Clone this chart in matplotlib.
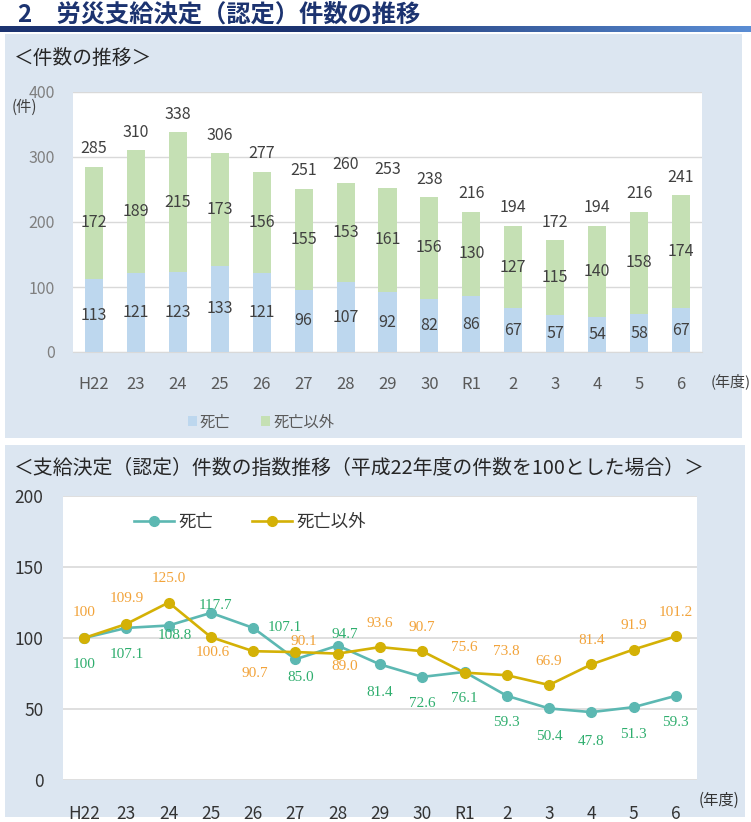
import numpy as np
import matplotlib
matplotlib.use("Agg")
import matplotlib.pyplot as plt
from matplotlib.patches import Rectangle

plt.rcParams['font.family'] = ['Noto Sans CJK JP', 'DejaVu Sans']

# ---------------- data ----------------
years = ['H22', '23', '24', '25', '26', '27', '28', '29', '30', 'R1', '2', '3', '4', '5', '6']
death = [113, 121, 123, 133, 121, 96, 107, 92, 82, 86, 67, 57, 54, 58, 67]
other = [172, 189, 215, 173, 156, 155, 153, 161, 156, 130, 127, 115, 140, 158, 174]
death_idx = [100, 107.1, 108.8, 117.7, 107.1, 85.0, 94.7, 81.4, 72.6, 76.1, 59.3, 50.4, 47.8, 51.3, 59.3]
other_idx = [100, 109.9, 125.0, 100.6, 90.7, 90.1, 89.0, 93.6, 90.7, 75.6, 73.8, 66.9, 81.4, 91.9, 101.2]
series_names = ['死亡', '死亡以外']

# label offsets (pixels) for the index chart
death_off = [(0, -27), (0, -27), (6, -10), (5, 7), (32, 0), (5, -18), (7, 11), (0, -28),
             (0, -27), (0, -27), (0, -27), (0, -28), (0, -29), (0, -27), (0, -27)]
other_off = [(0, 25), (0, 25), (0, 24), (2, -15), (2, -22), (8, 11), (7, -13), (0, 24),
             (0, 24), (0, 25), (0, 24), (0, 24), (0, 24), (0, 24), (0, 24)]

W, H = 751, 822
fig = plt.figure(figsize=(W / 100, H / 100), dpi=100)
fig.patch.set_facecolor('white')


def fax(left, top, right, bottom):
    return [left / W, 1 - bottom / H, (right - left) / W, (bottom - top) / H]


# background layer
bg = fig.add_axes([0, 0, 1, 1], zorder=-10)
bg.axis('off')
panel_c = '#dce6f1'
bg.add_patch(Rectangle((5, 34), 737, 404, facecolor=panel_c, edgecolor='none'))
bg.add_patch(Rectangle((5, 445), 740, 372, facecolor=panel_c, edgecolor='none'))
# gradient bar under title
c1 = np.array([0x1c, 0x33, 0x70]) / 255
c2 = np.array([0x5a, 0x8d, 0xd4]) / 255
t = np.linspace(0, 1, 400)
t = np.clip((t - 0.4) / 0.6, 0, 1)
grad = (c1[None, :] * (1 - t[:, None]) + c2[None, :] * t[:, None])[None, :, :]
bg.imshow(grad, extent=(0, W, 32, 26), aspect='auto', zorder=1)
bg.set_xlim(0, W)
bg.set_ylim(H, 0)

fig.text(18 / W, 1 - 15 / H, '2　労災支給決定（認定）件数の推移', fontsize=17.5, fontweight='bold',
         color='#1c3370', va='center', ha='left')
fig.text(14 / W, 1 - 58 / H, '＜件数の推移＞', fontsize=14.2, color='#262626', va='center', ha='left')
fig.text(14 / W, 1 - 468 / H, '＜支給決定（認定）件数の指数推移（平成22年度の件数を100とした場合）＞',
         fontsize=14.3, color='#262626', va='center', ha='left')

# ---------------- top chart ----------------
ax = fig.add_axes(fax(73, 92, 702, 352))
ax.set_facecolor('white')
x = np.arange(len(years))
c_death = '#bdd7ee'
c_other = '#c5e0b4'
b1 = ax.bar(x, death, width=0.43, color=c_death, zorder=3, label=series_names[0])
b2 = ax.bar(x, other, width=0.43, bottom=death, color=c_other, zorder=3, label=series_names[1])
totals = [d + o for d, o in zip(death, other)]
lab_c = '#404040'
for i in range(len(years)):
    ax.text(x[i], death[i] / 2, str(death[i]), ha='center', va='center', fontsize=11.5, color=lab_c, zorder=4)
    ax.text(x[i], death[i] + other[i] / 2, str(other[i]), ha='center', va='center', fontsize=11.5,
            color=lab_c, zorder=4)
    ax.annotate(str(totals[i]), (x[i], totals[i]), xytext=(0, 18), textcoords='offset pixels',
                ha='center', va='center', fontsize=11.5, color=lab_c, zorder=4)
ax.set_xlim(-0.5, len(years) - 0.5)
ax.set_ylim(0, 400)
ax.set_yticks([0, 100, 200, 300, 400])
ax.grid(axis='y', color='#d9d9d9', linewidth=1, zorder=0)
for s in ['top', 'right', 'left']:
    ax.spines[s].set_visible(False)
ax.spines['bottom'].set_color('#d9d9d9')
ax.tick_params(length=0)
ax.tick_params(axis='y', pad=13, labelsize=11.5, labelcolor='#7f7f7f')
ax.set_xticks(x)
ax.set_xticklabels(years)
ax.tick_params(axis='x', pad=17, labelsize=12, labelcolor='#595959')
fig.text(12 / W, 1 - 107 / H, '(件)', fontsize=11, color='#404040', va='center', ha='left')
fig.text(711 / W, 1 - 381 / H, '(年度)', fontsize=10.8, color='#404040', va='center', ha='left')
ax.legend(handles=[b1, b2], loc='center left', bbox_to_anchor=(174 / W, 1 - 422 / H),
          bbox_transform=fig.transFigure, ncol=2, frameon=False, fontsize=11,
          handlelength=0.6, handleheight=0.6, handletextpad=0.2, columnspacing=2.0,
          labelcolor='#595959')

# ---------------- bottom chart ----------------
ax2 = fig.add_axes(fax(63, 496, 697, 780))
ax2.set_facecolor('white')
c_teal = '#5cb8b2'
c_yel = '#d4b106'
l1, = ax2.plot(x, death_idx, color=c_teal, lw=1.9, marker='o', ms=7, zorder=3, label=series_names[0])
l2, = ax2.plot(x, other_idx, color=c_yel, lw=1.9, marker='o', ms=7, zorder=4, label=series_names[1])
fmt = lambda i, v: '100' if i == 0 else f'{v:.1f}'
for i in range(len(years)):
    ax2.annotate(fmt(i, death_idx[i]), (x[i], death_idx[i]), xytext=death_off[i],
                 textcoords='offset pixels', ha='center', va='center', fontsize=11,
                 family='Liberation Serif', color='#2fae6e', zorder=5)
    ax2.annotate(fmt(i, other_idx[i]), (x[i], other_idx[i]), xytext=other_off[i],
                 textcoords='offset pixels', ha='center', va='center', fontsize=11,
                 family='Liberation Serif', color='#f2a33a', zorder=5)
ax2.set_xlim(-0.5, len(years) - 0.5)
ax2.set_ylim(0, 200)
ax2.set_yticks([0, 50, 100, 150, 200])
ax2.grid(axis='y', color='#d9d9d9', linewidth=1.2, zorder=0)
for s in ['top', 'right', 'left', 'bottom']:
    ax2.spines[s].set_visible(False)
ax2.tick_params(length=0)
ax2.tick_params(axis='y', pad=14, labelsize=12.5, labelcolor='#333333')
ax2.set_xticks(x)
ax2.set_xticklabels(years)
ax2.tick_params(axis='x', pad=18, labelsize=12.5, labelcolor='#333333')
fig.text(699 / W, 1 - 800 / H, '(年度)', fontsize=11, color='#333333', va='center', ha='left')
ax2.legend(handles=[l1, l2], loc='center left', bbox_to_anchor=(118 / W, 1 - 522 / H),
           bbox_transform=fig.transFigure, ncol=2, frameon=False, fontsize=12.5,
           handlelength=2.3, handletextpad=0.3, columnspacing=2.2, labelcolor='#333333')

fig.savefig('out.png', dpi=100, facecolor='white')
